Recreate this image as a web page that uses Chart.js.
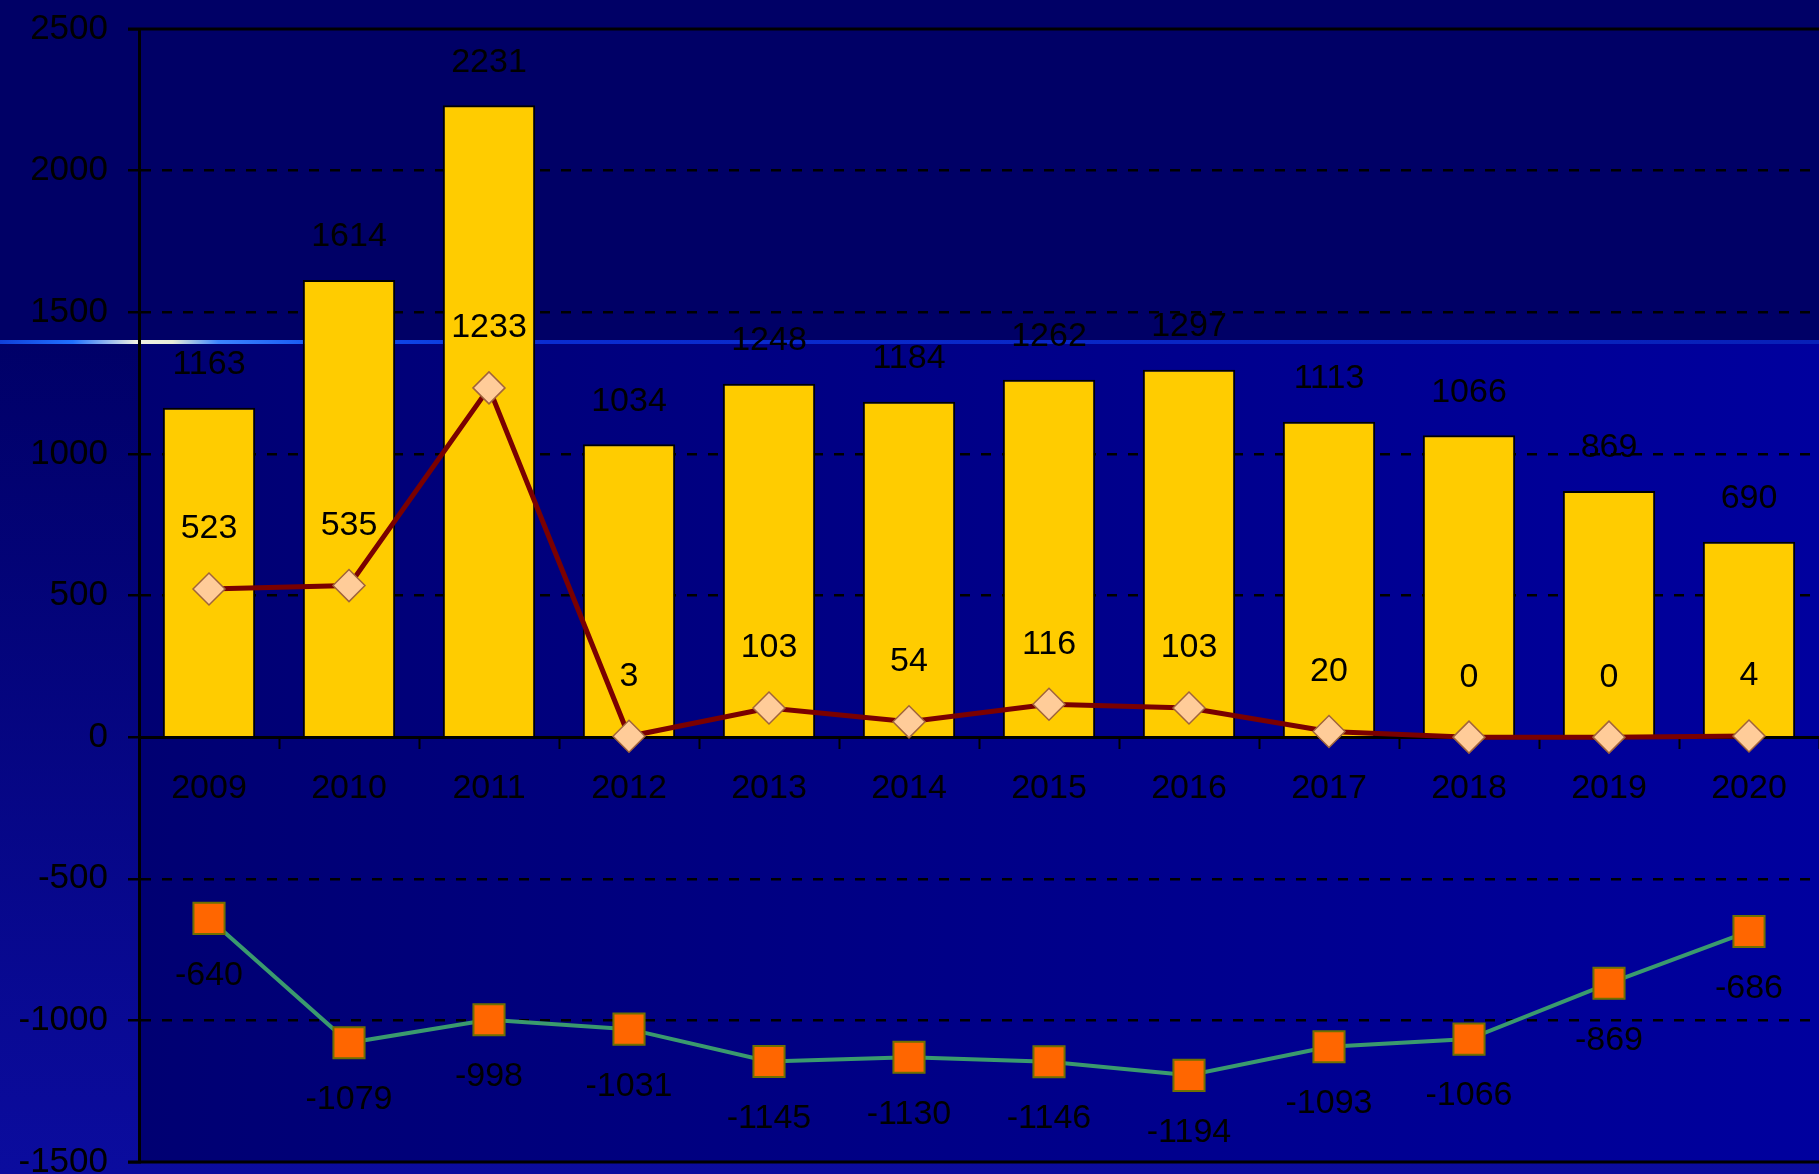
<!DOCTYPE html>
<html>
<head>
<meta charset="utf-8">
<script src="https://cdn.jsdelivr.net/npm/chart.js@4"></script>
<style>
  html, body { margin: 0; padding: 0; background: #000066; overflow: hidden; }
  #chart { display: block; }
</style>
</head>
<body>
<canvas id="chart" width="1819" height="1174"></canvas>
<script>
// data
var years = ['2009', '2010', '2011', '2012', '2013', '2014', '2015', '2016', '2017', '2018', '2019', '2020'];
var barValues = [1163, 1614, 2231, 1034, 1248, 1184, 1262, 1297, 1113, 1066, 869, 690];
var redValues = [523, 535, 1233, 3, 103, 54, 116, 103, 20, 0, 0, 4];
var greenValues = [-640, -1079, -998, -1031, -1145, -1130, -1146, -1194, -1093, -1066, -869, -686];
var yMin = -1500, yMax = 2500, yStep = 500;

var FONT = '"Liberation Sans", Arial, sans-serif';
var BAND = 342; // where the dark top band of the slide ends

// slide background + flare line
var bgPlugin = {
  id: 'bg',
  beforeDraw: function(chart) {
    var c = chart.ctx, w = chart.width, h = chart.height, a = chart.chartArea;
    c.save();
    c.fillStyle = '#000066';
    c.fillRect(0, 0, w, h);

    // left margin, lower part
    var gl = c.createLinearGradient(0, BAND, 0, h);
    gl.addColorStop(0, '#000068');
    gl.addColorStop(1, '#0b0c9e');
    c.fillStyle = gl;
    c.fillRect(0, BAND, w, h - BAND);

    // plot interior, lower part
    var gp = c.createLinearGradient(a.left, 0, a.right, 0);
    gp.addColorStop(0, '#000072');
    gp.addColorStop(0.55, '#00008a');
    gp.addColorStop(1, '#00009e');
    c.fillStyle = gp;
    c.fillRect(a.left, BAND, a.right - a.left, a.bottom - BAND);

    // flare line
    var gf = c.createLinearGradient(0, 0, w, 0);
    gf.addColorStop(0, '#1040d8');
    gf.addColorStop(0.04, '#2070ff');
    gf.addColorStop(0.075, '#f2f2e2');
    gf.addColorStop(0.095, '#e8ecd8');
    gf.addColorStop(0.12, '#3c84ff');
    gf.addColorStop(0.18, '#1050f0');
    gf.addColorStop(0.3, '#0a2cd0');
    gf.addColorStop(1, '#0820b8');
    c.fillStyle = gf;
    c.fillRect(0, BAND - 2, w, 4);
    c.restore();
  },
  beforeDatasetsDraw: function(chart) {
    // solid top and bottom frame lines
    var c = chart.ctx, a = chart.chartArea, y = chart.scales.y;
    c.save();
    c.strokeStyle = '#000';
    c.lineWidth = 3;
    [yMax, yMin].forEach(function(v) {
      var py = Math.round(y.getPixelForValue(v));
      c.beginPath();
      c.moveTo(a.left - 11, py);
      c.lineTo(a.right, py);
      c.stroke();
    });
    c.restore();
  }
};

// value labels
var labelPlugin = {
  id: 'valueLabels',
  afterDatasetsDraw: function(chart) {
    var c = chart.ctx;
    c.save();
    c.font = '34px ' + FONT;
    c.fillStyle = '#000';
    c.textAlign = 'center';
    c.textBaseline = 'middle';
    chart.data.datasets.forEach(function(ds, i) {
      var meta = chart.getDatasetMeta(i);
      meta.data.forEach(function(el, j) {
        c.fillText(String(ds.data[j]), el.x, el.y + ds.labelOffset);
      });
    });
    c.restore();
  }
};

var ticks = [];
for (var v = yMin; v <= yMax; v += yStep) ticks.push(v);

new Chart(document.getElementById('chart'), {
  type: 'bar',
  data: {
    labels: years,
    datasets: [
      {
        type: 'line',
        data: redValues,
        order: 1,
        borderColor: '#7a0000',
        borderWidth: 5,
        tension: 0,
        fill: false,
        clip: false,
        pointStyle: 'rectRot',
        pointRadius: 16,
        pointBackgroundColor: '#ffcc99',
        pointBorderColor: '#a0643c',
        pointBorderWidth: 1.5,
        labelOffset: -60
      },
      {
        type: 'line',
        data: greenValues,
        order: 2,
        borderColor: '#3a9a6e',
        borderWidth: 4,
        tension: 0,
        fill: false,
        clip: false,
        pointStyle: 'rect',
        pointRadius: 22,
        pointBackgroundColor: '#ff6600',
        pointBorderColor: '#6e7000',
        pointBorderWidth: 2,
        labelOffset: 57
      },
      {
        type: 'bar',
        data: barValues,
        order: 3,
        backgroundColor: '#ffcc00',
        borderColor: '#000',
        borderWidth: 2,
        barPercentage: 0.66,
        categoryPercentage: 1,
        labelOffset: -43
      }
    ]
  },
  options: {
    responsive: false,
    devicePixelRatio: 1,
    animation: false,
    layout: { autoPadding: false, padding: { top: 29, bottom: 12, left: 0, right: 0 } },
    plugins: { legend: { display: false }, tooltip: { enabled: false } },
    scales: {
      x: {
        position: { y: 0 },
        offset: true,
        afterFit: function(scale) {
          scale.paddingLeft = 0;
          scale.paddingRight = 0;
          scale.paddingTop = 0;
          scale.paddingBottom = 0;
        },
        grid: {
          drawOnChartArea: false,
          drawTicks: true,
          tickLength: 10,
          tickColor: '#000',
          tickWidth: 2,
          offset: true
        },
        border: { display: true, color: '#000', width: 3 },
        ticks: {
          color: '#000',
          padding: 21,
          font: { family: FONT, size: 34 },
          maxRotation: 0
        }
      },
      y: {
        min: yMin,
        max: yMax,
        afterBuildTicks: function(scale) {
          scale.ticks = ticks.map(function(t) { return { value: t }; });
        },
        afterFit: function(scale) {
          scale.width = 139;
          scale.paddingTop = 0;
          scale.paddingBottom = 0;
        },
        grid: {
          color: function(ctx) {
            var val = ctx.tick ? ctx.tick.value : null;
            return (val === 0 || val === yMax || val === yMin) ? 'rgba(0,0,0,0)' : '#000';
          },
          lineWidth: 2.5,
          tickLength: 11,
          tickColor: '#000',
          tickWidth: 2.5,
          tickBorderDash: []
        },
        border: { display: true, color: '#000', width: 3, dash: [10, 11] },
        ticks: {
          color: '#000',
          padding: 20,
          font: { family: FONT, size: 35 },
          callback: function(value) { return String(value); }
        }
      }
    }
  },
  plugins: [bgPlugin, labelPlugin]
});
</script>
</body>
</html>
